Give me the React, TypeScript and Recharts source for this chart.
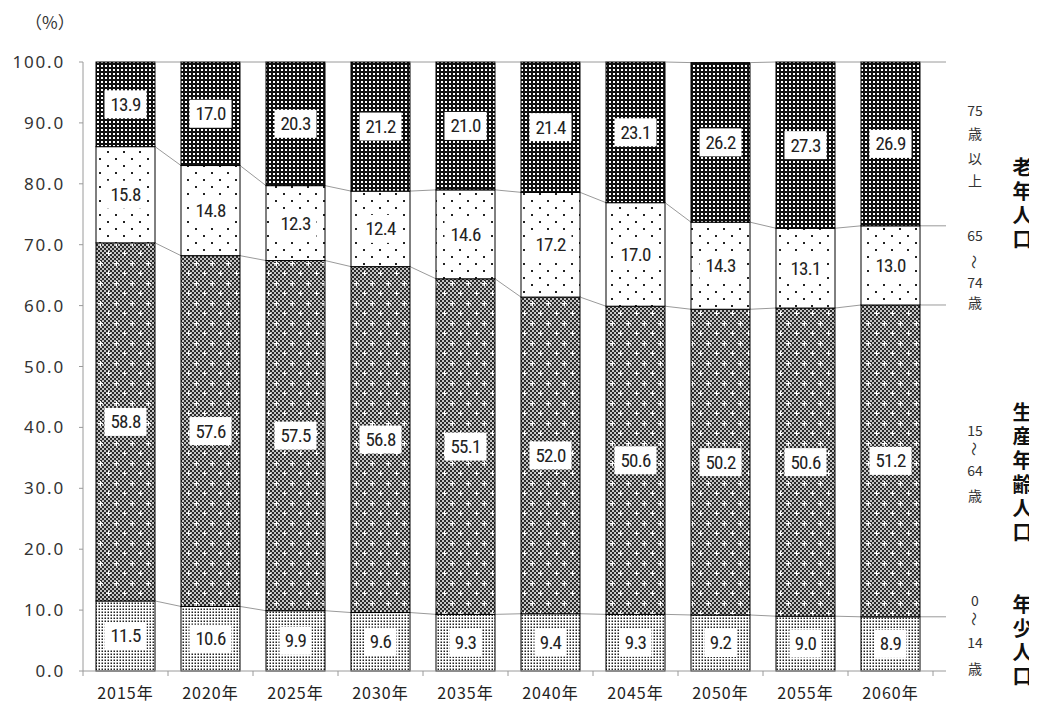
import React from 'react'
import { ComposedChart, Bar, XAxis, YAxis, LabelList } from 'recharts'

const YEARS = ['2015年', '2020年', '2025年', '2030年', '2035年', '2040年', '2045年', '2050年', '2055年', '2060年']
const AGE_0_14 = [11.5, 10.6, 9.9, 9.6, 9.3, 9.4, 9.3, 9.2, 9.0, 8.9]
const AGE_15_64 = [58.8, 57.6, 57.5, 56.8, 55.1, 52.0, 50.6, 50.2, 50.6, 51.2]
const AGE_65_74 = [15.8, 14.8, 12.3, 12.4, 14.6, 17.2, 17.0, 14.3, 13.1, 13.0]
const AGE_75 = [13.9, 17.0, 20.3, 21.2, 21.0, 21.4, 23.1, 26.2, 27.3, 26.9]
const Y_TICKS = [0, 10, 20, 30, 40, 50, 60, 70, 80, 90, 100]

// bottom to top
const SERIES = [
  { key: 'a0', values: AGE_0_14, pattern: 'pat0' },
  { key: 'a15', values: AGE_15_64, pattern: 'pat15' },
  { key: 'a65', values: AGE_65_74, pattern: 'pat65' },
  { key: 'a75', values: AGE_75, pattern: 'pat75' },
]

const data = YEARS.map((year, i) => ({
  year,
  a0: AGE_0_14[i],
  a15: AGE_15_64[i],
  a65: AGE_65_74[i],
  a75: AGE_75[i],
}))

const CHART_W = 1021
const CHART_H = 701
const MARGIN = { top: 54, right: 96, bottom: 0, left: 0 }
const Y_AXIS_W = 75
const X_AXIS_H = 38
const N = YEARS.length
const STEP = (CHART_W - MARGIN.left - MARGIN.right - Y_AXIS_W) / N
const EXT = 13 // how far the lines run past the last category
const LINE = '#9a9a9a'

const cumTop = (s: number, i: number) => {
  let t = 0
  for (let k = 0; k <= s; k++) t += SERIES[k].values[i]
  return t
}

const makeShape = (s: number) => (props: any) => {
  const { x, y, width, height, index } = props
  if (x == null || y == null || !width || !height) return null
  const v = SERIES[s].values[index]
  const ppu = height / v
  const top = cumTop(s, index)
  const gap = STEP - width
  let line
  if (index < N - 1) {
    const ny = y + (top - cumTop(s, index + 1)) * ppu
    line = <line x1={x + width} y1={y} x2={x + width + gap} y2={ny} stroke={LINE} strokeWidth={1} />
  } else {
    line = <line x1={x + width} y1={y} x2={x + width + gap / 2 + EXT} y2={y} stroke={LINE} strokeWidth={1} />
  }
  return (
    <g>
      <rect x={x} y={y} width={width} height={height} fill={`url(#${SERIES[s].pattern})`} stroke="#000" strokeWidth={1} />
      {line}
    </g>
  )
}

const ValueBox = (props: any) => {
  const { x, y, width, height, value } = props
  if (value == null) return null
  const txt = Number(value).toFixed(1)
  const w = txt.length * 10 + 2
  const h = 28
  const cx = x + width / 2
  const cy = y + height / 2
  return (
    <g>
      <rect x={cx - w / 2} y={cy - h / 2} width={w} height={h} fill="#fff" />
      <text
        x={cx}
        y={cy}
        textAnchor="middle"
        dominantBaseline="central"
        fontSize={19}
        letterSpacing={-0.8}
        fill="#222"
        fontFamily="'Liberation Sans Narrow', 'Roboto Condensed', Roboto, sans-serif"
      >
        {txt}
      </text>
    </g>
  )
}

const XTick = (props: any) => {
  const { x, y, payload, index } = props
  const left = x - STEP / 2
  const right = x + STEP / 2
  return (
    <g>
      <line x1={left} y1={y} x2={left} y2={y + 5} stroke={LINE} />
      {index === N - 1 && (
        <>
          <line x1={right} y1={y} x2={right} y2={y + 5} stroke={LINE} />
          <line x1={right} y1={y} x2={right + EXT} y2={y} stroke={LINE} />
        </>
      )}
      <text
        x={x}
        y={y + 21}
        textAnchor="middle"
        dominantBaseline="central"
        fontSize={16}
        letterSpacing={1}
        fill="#222"
        fontFamily="'Noto Sans CJK JP', sans-serif"
      >
        {payload.value}
      </text>
    </g>
  )
}

const Patterns = () => (
  <svg width={0} height={0} style={{ position: 'absolute' }}>
    <defs>
      <pattern id="pat75" width={4} height={4} patternUnits="userSpaceOnUse">
        <rect width={4} height={4} fill="#111" />
        <rect x={1} y={1} width={2} height={2} fill="#fff" />
      </pattern>
      <pattern id="pat65" width={16} height={14} patternUnits="userSpaceOnUse">
        <rect width={16} height={14} fill="#fff" />
        <rect x={3} y={3} width={2} height={2} fill="#222" />
        <rect x={11} y={10} width={2} height={2} fill="#222" />
      </pattern>
      <pattern id="checker" width={4} height={4} patternUnits="userSpaceOnUse">
        <rect width={4} height={4} fill="#c4c4c4" />
        <rect x={0} y={0} width={2} height={2} fill="#2a2a2a" />
        <rect x={2} y={2} width={2} height={2} fill="#2a2a2a" />
      </pattern>
      <pattern id="pat15" width={16} height={20} patternUnits="userSpaceOnUse">
        <rect width={16} height={20} fill="url(#checker)" />
        <rect x={2} y={5} width={5} height={1} fill="#fff" />
        <rect x={4} y={3} width={1} height={5} fill="#fff" />
        <rect x={10} y={15} width={5} height={1} fill="#fff" />
        <rect x={12} y={13} width={1} height={5} fill="#fff" />
      </pattern>
      <pattern id="pat0" width={3} height={3} patternUnits="userSpaceOnUse">
        <rect width={3} height={3} fill="#fff" />
        <rect x={0.5} y={0.5} width={1.5} height={1.5} fill="#222" />
      </pattern>
    </defs>
  </svg>
)

const SMALL_LABELS = [
  { t: '75', y: 102 }, { t: '歳', y: 125 }, { t: '以', y: 150 }, { t: '上', y: 172 },
  { t: '65', y: 227 }, { t: '～', y: 254, rot: true }, { t: '74', y: 274 }, { t: '歳', y: 294 },
  { t: '15', y: 422 }, { t: '～', y: 441, rot: true }, { t: '64', y: 462 }, { t: '歳', y: 487 },
  { t: '0', y: 592 }, { t: '～', y: 611, rot: true }, { t: '14', y: 634 }, { t: '歳', y: 660 },
]

// vertical group names: text and top of first character
const GROUP_LABELS = [
  { t: '老年人口', top: 149 },
  { t: '生産年齢人口', top: 394 },
  { t: '年少人口', top: 586 },
]

export default function App() {
  return (
    <div style={{ position: 'relative', width: CHART_W, height: 693 }}>
      <Patterns />
      <div
        style={{
          position: 'absolute',
          left: 17,
          top: 3,
          fontSize: 17,
          color: '#333',
          fontFamily: "'Noto Sans CJK JP', sans-serif",
          lineHeight: '22px',
        }}
      >
        （%）
      </div>
      <ComposedChart width={CHART_W} height={CHART_H} data={data} margin={MARGIN} barCategoryGap={13}>
        <XAxis
          dataKey="year"
          height={X_AXIS_H}
          tickSize={0}
          tickMargin={0}
          axisLine={{ stroke: LINE }}
          tickLine={false}
          tick={<XTick />}
          interval={0}
        />
        <YAxis
          type="number"
          domain={[0, 100]}
          ticks={Y_TICKS}
          width={Y_AXIS_W}
          tickSize={4}
          tickMargin={14}
          axisLine={{ stroke: LINE }}
          tickLine={{ stroke: LINE }}
          tickFormatter={(v: number) => v.toFixed(1)}
          tick={{ fontSize: 17, fill: '#333', fontFamily: "'Noto Sans', sans-serif", letterSpacing: 1.8 }}
        />
        {SERIES.map((s, si) => (
          <Bar key={s.key} dataKey={s.key} stackId="pop" shape={makeShape(si)} isAnimationActive={false}>
            <LabelList dataKey={s.key} content={<ValueBox />} />
          </Bar>
        ))}
      </ComposedChart>
      {SMALL_LABELS.map((l, i) => (
        <div
          key={'s' + i}
          style={{
            position: 'absolute',
            left: 967 - 15,
            width: 30,
            top: l.y - 9,
            height: 18,
            lineHeight: '18px',
            textAlign: 'center',
            fontSize: 14,
            color: '#333',
            fontFamily: "'Noto Sans CJK JP', sans-serif",
            transform: l.rot ? 'rotate(90deg)' : undefined,
          }}
        >
          {l.t}
        </div>
      ))}
      {GROUP_LABELS.map((l, i) => (
        <div
          key={'g' + i}
          style={{
            position: 'absolute',
            left: 1014 - 13,
            width: 26,
            top: l.top,
            writingMode: 'vertical-rl',
            lineHeight: '26px',
            letterSpacing: 4,
            fontSize: 20,
            fontWeight: 700,
            color: '#111',
            fontFamily: "'Noto Sans CJK JP', sans-serif",
          }}
        >
          {l.t}
        </div>
      ))}
    </div>
  )
}
